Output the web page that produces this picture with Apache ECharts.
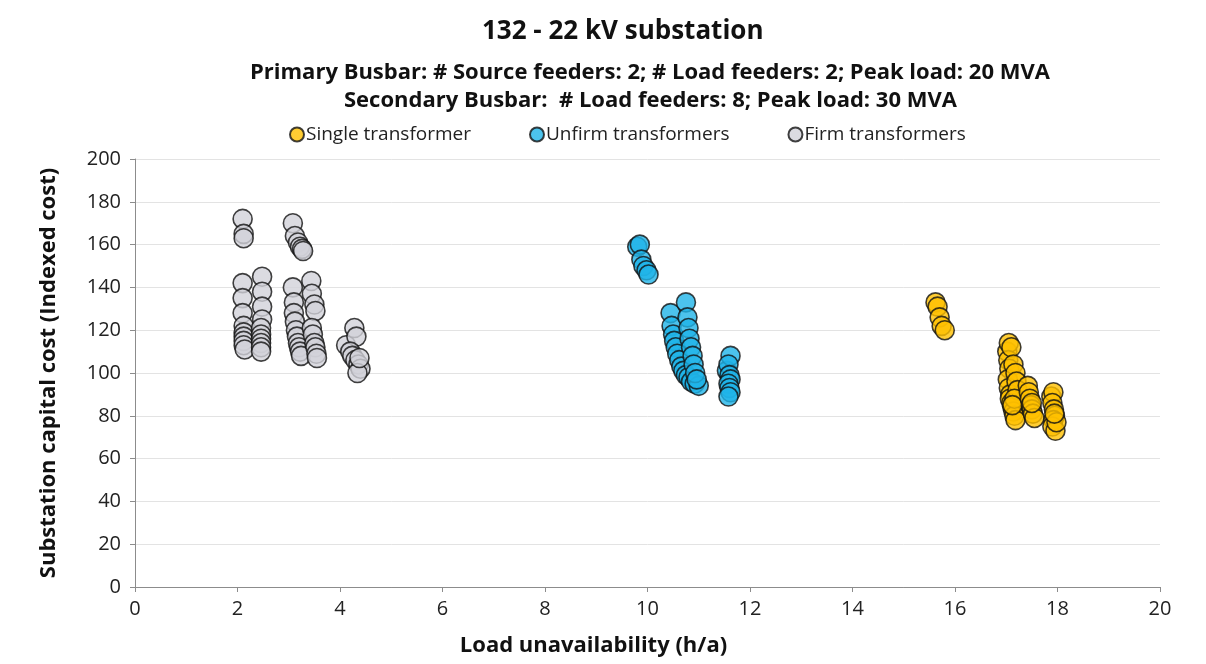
<!DOCTYPE html>
<html>
<head>
<meta charset="utf-8">
<script src="https://cdn.jsdelivr.net/npm/echarts@6/dist/echarts.min.js"></script>
<style>
html,body{margin:0;padding:0;background:#fff;}
#chart{width:1206px;height:664px;}
</style>
</head>
<body>
<div id="chart"></div>
<script>
// Load unavailability (h/a) and indexed capital cost for each design option
const singleX = [15.62,15.66,15.70,15.74,15.80,
  17.02,17.05,17.04,17.06,17.03,17.05,17.08,17.07,17.10,17.12,17.14,17.16,17.18,
  17.10,17.14,17.18,17.20,17.22,17.16,17.12,
  17.42,17.44,17.46,17.48,17.50,17.52,17.55,17.50,
  17.88,17.92,17.90,17.93,17.95,17.92,17.90,17.96,17.98,17.94];
const singleY = [133,131,126,122,120,
  110,114,106,102,97,93,90,88,86,84,82,80,78,
  112,104,100,96,92,88,85,
  94,91,88,85,83,81,79,86,
  89,91,86,83,80,78,75,73,77,81];

const unfirmX = [9.80,9.85,9.88,9.92,9.98,10.02,
  10.45,10.47,10.50,10.52,10.55,10.58,10.62,10.66,10.70,10.75,10.80,10.85,10.92,11.00,
  10.75,10.78,10.80,10.82,10.85,10.88,10.90,10.93,10.96,
  11.55,11.62,11.58,11.60,11.62,11.58,11.60,11.62,11.58];
const unfirmY = [159,160,153,150,148,146,
  128,122,118,115,112,109,106,103,101,99,98,96,95,94,
  133,126,121,116,112,108,104,100,97,
  101,108,104,99,97,95,93,91,89];

const firmX = [2.10,2.12,2.12,
  2.10,2.10,2.10,2.12,2.12,2.12,2.12,2.12,2.14,
  2.48,2.48,2.48,2.48,2.46,2.46,2.46,2.46,2.46,2.46,
  3.08,3.12,3.18,3.22,3.26,3.28,
  3.08,3.10,3.10,3.12,3.14,3.16,3.18,3.20,3.22,3.24,
  3.44,3.45,3.50,3.52,3.45,3.47,3.50,3.52,3.54,3.55,
  4.12,4.28,4.32,4.20,4.24,4.30,4.36,4.40,4.34,4.38];
const firmY = [172,165,163,
  142,135,128,122,119,117,115,113,111,
  145,138,131,125,121,118,116,114,112,110,
  170,164,161,159,158,157,
  140,133,128,124,120,117,114,112,110,108,
  143,137,132,129,121,118,114,112,109,107,
  113,121,117,110,108,106,104,102,100,107];

const xTicks = {min: 0, max: 20, interval: 2};
const yTicks = {min: 0, max: 200, interval: 20};

const font = '"Open Sans", sans-serif';

function pairs(xs, ys) { return xs.map((x, i) => [x, ys[i]]); }

const chart = echarts.init(document.getElementById('chart'));
const marker = (color) => ({
  color: color, borderColor: '#111', borderWidth: 1.6
});
const subStyle = {fontFamily: font, fontSize: 22, fontWeight: 'bold', color: '#111'};

chart.setOption({
  animation: false,
  backgroundColor: '#fff',
  title: [
    {text: '132 - 22 kV substation', left: 477, top: 14,
     textStyle: {fontFamily: font, fontSize: 26, fontWeight: 'bold', color: '#111'}},
    {text: 'Primary Busbar: # Source feeders: 2; # Load feeders: 2; Peak load: 20 MVA',
     left: 245, top: 57, textStyle: subStyle},
    {text: 'Secondary Busbar:  # Load feeders: 8; Peak load: 30 MVA',
     left: 339, top: 85, textStyle: subStyle}
  ],
  legend: {
    top: 120, left: 284, itemGap: 58, itemWidth: 14, itemHeight: 14,
    icon: 'circle',
    textStyle: {fontFamily: font, fontSize: 19, color: '#222', padding: [0,0,0,-3]},
    data: ['Single transformer', 'Unfirm transformers', 'Firm transformers']
  },
  grid: {left: 135, right: 46, top: 159, bottom: 77},
  xAxis: {
    type: 'value', min: xTicks.min, max: xTicks.max, interval: xTicks.interval,
    name: 'Load unavailability (h/a)', nameLocation: 'middle', nameGap: 48,
    nameTextStyle: {fontFamily: font, fontSize: 22, fontWeight: 'bold', color: '#111',
                    padding: [0, 108, 0, 0]},
    axisLine: {show: true, lineStyle: {color: '#8c8c8c', width: 1}},
    axisTick: {show: true, length: 5, lineStyle: {color: '#8c8c8c'}},
    axisLabel: {fontFamily: font, fontSize: 20, color: '#222', margin: 12},
    splitLine: {show: false}
  },
  yAxis: {
    type: 'value', min: yTicks.min, max: yTicks.max, interval: yTicks.interval,
    name: 'Substation capital cost (Indexed cost)', nameLocation: 'middle', nameGap: 75,
    nameTextStyle: {fontFamily: font, fontSize: 22, fontWeight: 'bold', color: '#111'},
    axisLine: {show: true, lineStyle: {color: '#8c8c8c', width: 1}},
    axisTick: {show: true, length: 5, lineStyle: {color: '#8c8c8c'}},
    axisLabel: {fontFamily: font, fontSize: 20, color: '#222', margin: 14},
    splitLine: {show: true, lineStyle: {color: '#e3e3e3', width: 1}}
  },
  series: [
    {name: 'Single transformer', type: 'scatter', symbolSize: 19,
     itemStyle: marker('#FFC000'), data: pairs(singleX, singleY)},
    {name: 'Unfirm transformers', type: 'scatter', symbolSize: 19,
     itemStyle: marker('#1FB4E8'), data: pairs(unfirmX, unfirmY)},
    {name: 'Firm transformers', type: 'scatter', symbolSize: 19,
     itemStyle: marker('#D2D2DA'), data: pairs(firmX, firmY)}
  ]
});
</script>
</body>
</html>
